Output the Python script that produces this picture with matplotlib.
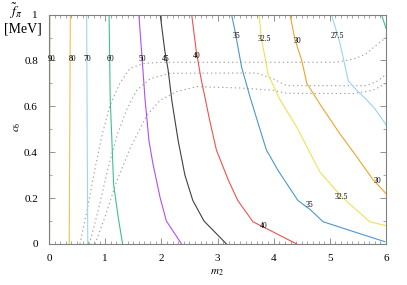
import matplotlib
matplotlib.use("Agg")
import matplotlib.pyplot as plt
from matplotlib.ticker import MultipleLocator

plt.rcParams['font.family'] = ['Liberation Serif', 'DejaVu Serif']
plt.rcParams['mathtext.fontset'] = 'stix'

# contour lines of f_pi [MeV]: (m2, c6) polylines
levels = ["90", "80", "70", "60", "50", "45", "40", "35", "32.5", "30", "27.5", "25"]
colors = ["#c0b860", "#f0c050", "#a0d4f0", "#40c090", "#b050f0", "#404040",
          "#f05050", "#4a98d0", "#f0e058", "#f0a428", "#98d4f0", "#40c090"]

m2_lines = [
    [0.015, 0.01],
    [0.38, 0.37, 0.36],
    [0.67, 0.68, 0.69],
    [1.07, 1.09, 1.12, 1.15, 1.23, 1.31],
    [1.60, 1.66, 1.71, 1.78, 1.85, 1.98, 2.09, 2.36],
    [1.98, 2.06, 2.12, 2.19, 2.30, 2.42, 2.56, 2.76, 3.16],
    [2.54, 2.62, 2.70, 2.86, 2.98, 3.19, 3.36, 3.63, 3.93, 4.41],
    [3.25, 3.31, 3.43, 3.58, 3.87, 4.08, 4.43, 4.65, 4.88, 5.42, 5.98],
    [3.74, 3.78, 3.90, 4.11, 4.41, 4.82, 5.21, 5.71, 6.0],
    [4.29, 4.38, 4.50, 4.59, 4.85, 5.18, 5.48, 5.77, 6.0],
    [5.03, 5.18, 5.33, 5.48, 5.65, 5.80, 6.0],
    [5.92, 6.0],
]
c6_lines = [
    [1.0, 0.0],
    [1.0, 0.5, 0.0],
    [1.0, 0.5, 0.0],
    [1.0, 0.63, 0.45, 0.26, 0.12, 0.0],
    [1.0, 0.8, 0.63, 0.45, 0.35, 0.2, 0.1, 0.0],
    [1.0, 0.845, 0.76, 0.62, 0.45, 0.30, 0.19, 0.1, 0.0],
    [1.0, 0.845, 0.73, 0.54, 0.41, 0.28, 0.19, 0.097, 0.06, 0.0],
    [1.0, 0.93, 0.77, 0.64, 0.41, 0.32, 0.19, 0.15, 0.097, 0.054, 0.01],
    [1.0, 0.9, 0.74, 0.63, 0.51, 0.315, 0.206, 0.097, 0.08],
    [1.0, 0.89, 0.80, 0.70, 0.60, 0.48, 0.38, 0.28, 0.22],
    [1.0, 0.875, 0.71, 0.67, 0.63, 0.59, 0.52],
    [1.0, 0.94],
]

# label positions (m2, c6) and text
label_text = ["90", "80", "70", "60", "50", "45", "40", "35", "32.5", "30", "27.5",
              "40", "35", "32.5", "30"]
label_m2 = [0.04, 0.41, 0.69, 1.10, 1.66, 2.08, 2.63, 3.33, 3.83, 4.43, 5.14,
            3.83, 4.64, 5.21, 5.84]
label_c6 = [0.806, 0.806, 0.806, 0.806, 0.806, 0.806, 0.82, 0.908, 0.892, 0.885, 0.908,
            0.078, 0.17, 0.203, 0.274]

# dotted gray boundaries
dot_m2 = [
    [0.55, 0.68, 0.82, 0.95, 1.08, 1.26, 1.44, 1.68, 2.0, 3.0, 4.0, 5.1, 5.30, 5.47, 5.65, 5.83, 6.0],
    [0.72, 0.88, 1.05, 1.22, 1.38, 1.56, 1.80, 2.15, 3.0, 3.7, 3.99, 4.23, 5.0, 5.65, 5.85, 6.0],
    [0.82, 1.0, 1.2, 1.45, 1.74, 1.98, 2.27, 2.63, 3.4, 3.99, 4.23, 5.0, 5.42, 5.77, 6.0],
]
dot_c6 = [
    [0.0, 0.15, 0.33, 0.48, 0.60, 0.70, 0.765, 0.787, 0.792, 0.792, 0.792, 0.792, 0.80, 0.81, 0.83, 0.867, 0.90],
    [0.0, 0.15, 0.33, 0.48, 0.584, 0.67, 0.72, 0.744, 0.745, 0.745, 0.72, 0.69, 0.69, 0.69, 0.71, 0.74],
    [0.0, 0.12, 0.27, 0.42, 0.56, 0.627, 0.664, 0.686, 0.68, 0.67, 0.657, 0.656, 0.656, 0.67, 0.70],
]

x_ticks = [0, 1, 2, 3, 4, 5, 6]
y_ticks = [0, 0.2, 0.4, 0.6, 0.8, 1.0]
y_ticklabels = ["0", "0.2", "0.4", "0.6", "0.8", "1"]

fig = plt.figure(figsize=(4.07, 2.85), dpi=100)
ax = fig.add_axes([0.1204, 0.1439, 0.828, 0.805])

for xs, ys in zip(dot_m2, dot_c6):
    ax.plot(xs, ys, color="#a0a0a0", lw=0.8, linestyle=(0, (1.2, 2.6)))

for xs, ys, col in zip(m2_lines, c6_lines, colors):
    ax.plot(xs, ys, color=col, lw=0.8)

for t, x, y in zip(label_text, label_m2, label_c6):
    ax.text(x, y, t, fontsize=5.5, ha="center", va="center")

ax.set_xlim(0, 6)
ax.set_ylim(0, 1)
ax.set_xticks(x_ticks)
ax.set_xticklabels([str(v) for v in x_ticks])
ax.set_yticks(y_ticks)
ax.set_yticklabels(y_ticklabels)
ax.xaxis.set_minor_locator(MultipleLocator(0.1))
ax.yaxis.set_minor_locator(MultipleLocator(0.1))
ax.tick_params(which="both", direction="in", top=True, right=True,
               color="#808080", labelsize=8)
ax.tick_params(which="major", length=4, width=0.6)
ax.tick_params(which="minor", length=2, width=0.5)
ax.tick_params(axis="x", pad=7)
ax.tick_params(axis="y", pad=8)
for s in ax.spines.values():
    s.set_color("#808080")
    s.set_linewidth(0.8)

fig.text(217 / 407, 1 - 273 / 285, r"$m_2$", fontsize=8, ha="center", va="center")
fig.text(18 / 407, 1 - 127 / 285, r"$c_6$", fontsize=8, ha="center", va="center",
         rotation=90)
fig.text(16 / 407, 1 - 1 / 285, r"$\tilde{f}_\pi$", fontsize=10, ha="center", va="top")
fig.text(22.5 / 407, 1 - 29 / 285, "[MeV]", fontsize=10, ha="center", va="center")

fig.savefig("out.png", dpi=100)
